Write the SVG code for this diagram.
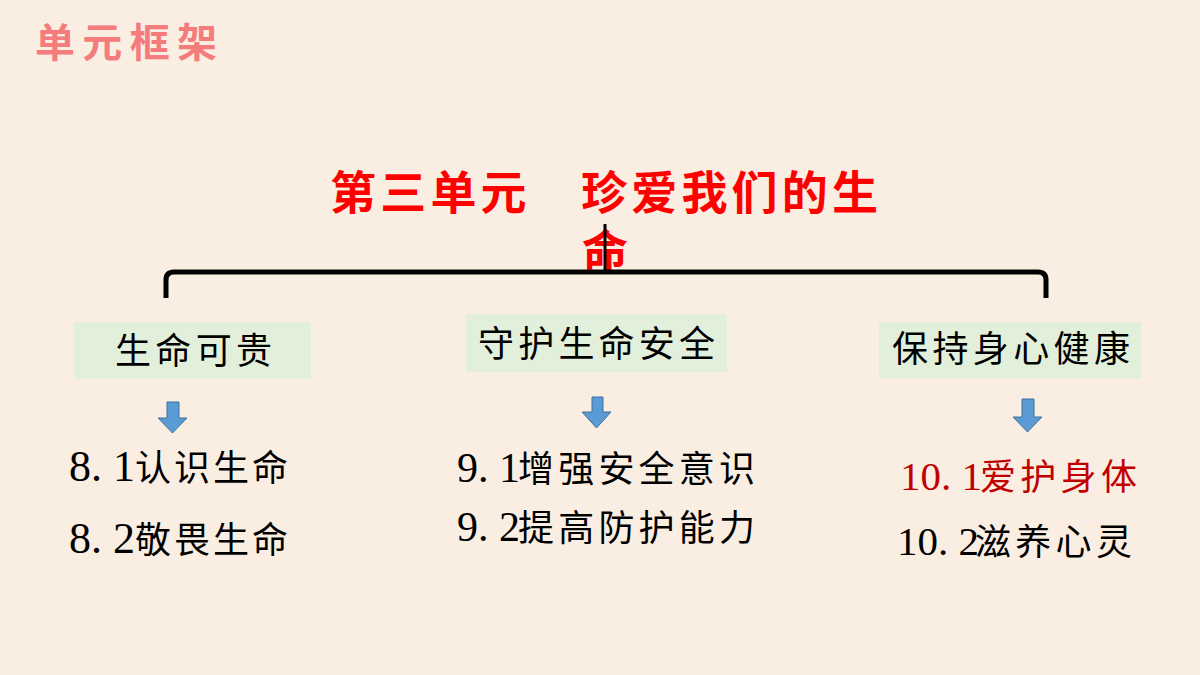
<svg xmlns="http://www.w3.org/2000/svg" width="1200" height="675" viewBox="0 0 1200 675">
<style>
.cap{font-family:"Liberation Serif","Noto Sans CJK SC",serif;font-size:36px;fill:#000}
.item{font-family:"Liberation Serif","Noto Sans CJK SC",serif;font-size:36px;fill:#000}
.num{font-size:42px}
.box{fill:#E2EFDA}
.arr{fill:#5B9BD5;stroke:#41719C;stroke-width:1}
</style>
<rect width="1200" height="675" fill="#FAEEE3"/>
<text x="35" y="57" font-family="Noto Sans CJK SC,sans-serif" font-weight="bold" font-size="40" fill="#F47C7C" textLength="182" lengthAdjust="spacing">单元框架</text>
<g id="title">
<text x="330" y="209" font-family="Liberation Serif,Noto Sans CJK SC,serif" font-weight="bold" font-size="46" fill="#FF0000" textLength="548" lengthAdjust="spacing">第三单元　珍爱我们的生</text>
<text x="582" y="268" font-family="Liberation Serif,Noto Sans CJK SC,serif" font-weight="bold" font-size="46" fill="#FF0000">命</text>
</g>
<g id="connectors">
<path d="M166,298 L166,280 Q166,272 174,272 L1038,272 Q1046,272 1046,280 L1046,298" fill="none" stroke="#000" stroke-width="5"/>
<path d="M605,224 L605,272" fill="none" stroke="#000" stroke-width="3"/>
<path class="arr" d="M167,402 H179 V418 H187 L172.5,433 L158,418 H167 Z"/>
<path class="arr" d="M592,397 H603 V412 H611 L596.5,428 L582,412 H592 Z"/>
<path class="arr" d="M1022,399 H1034 V417 H1042 L1027.5,432 L1013,417 H1022 Z"/>
</g>
<g id="node1">
<rect class="box" x="74" y="322" width="237" height="57"/>
<text class="cap" x="115" y="364" textLength="157" lengthAdjust="spacing">生命可贵</text>
</g>
<g id="node2">
<rect class="box" x="466" y="314" width="261" height="58"/>
<text class="cap" x="478" y="357" textLength="237" lengthAdjust="spacing">守护生命安全</text>
</g>
<g id="node3">
<rect class="box" x="879" y="322" width="262" height="56"/>
<text class="cap" x="892" y="362" textLength="238" lengthAdjust="spacing">保持身心健康</text>
</g>
<g id="items1">
<text class="item" x="69" y="481"><tspan style="font-size:44px">8. 1</tspan><tspan x="135" letter-spacing="3">认识生命</tspan></text>
<text class="item" x="69" y="553"><tspan style="font-size:44px">8. 2</tspan><tspan x="135" letter-spacing="3">敬畏生命</tspan></text>
</g>
<g id="items2">
<text class="item" x="457" y="482"><tspan style="font-size:42px">9. 1</tspan><tspan x="518" letter-spacing="4.2">增强安全意识</tspan></text>
<text class="item" x="457" y="541"><tspan style="font-size:42px">9. 2</tspan><tspan x="518" letter-spacing="4.2">提高防护能力</tspan></text>
</g>
<g id="items3">
<text class="item" x="900" y="490" style="fill:#C00000"><tspan style="font-size:41px">10. 1</tspan><tspan x="980" letter-spacing="4.3">爱护身体</tspan></text>
<text class="item" x="897" y="555"><tspan style="font-size:41px">10. 2</tspan><tspan x="975" letter-spacing="4.3">滋养心灵</tspan></text>
</g>
</svg>
